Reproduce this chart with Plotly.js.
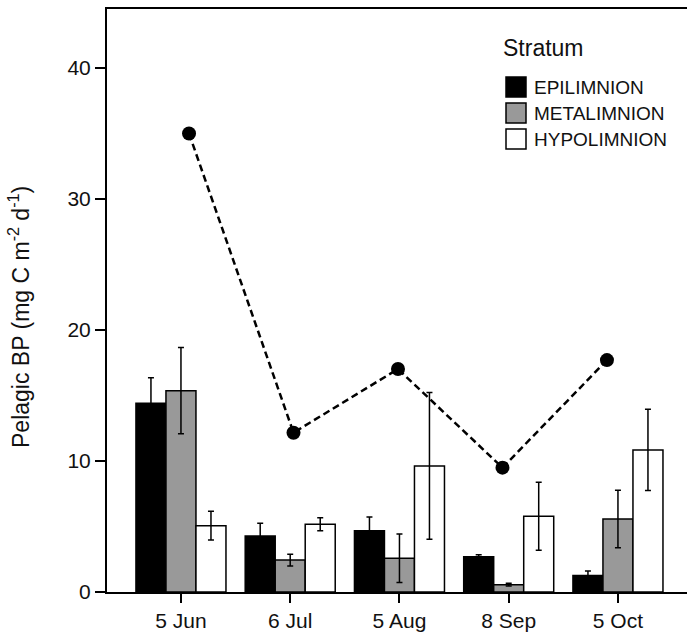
<!DOCTYPE html>
<html>
<head>
<meta charset="utf-8">
<script src="https://cdn.plot.ly/plotly-3.0.1.min.js"></script>
<style>html,body{margin:0;padding:0;background:#fff;}#chart{width:687px;height:638px;}</style>
</head>
<body>
<div id="chart"></div>
<script>
// ---- data ----
const dates = ['5 Jun', '6 Jul', '5 Aug', '8 Sep', '5 Oct'];
const legendTitle = 'Stratum';
const yTitle = 'Pelagic BP (mg C m<sup>-2</sup> d<sup>-1</sup>)';
const seriesNames = ['EPILIMNION', 'METALIMNION', 'HYPOLIMNION'];
const epilimnion = [14.4, 4.27, 4.68, 2.7, 1.25];
const epilimnionErr = [1.96, 0.97, 1.05, 0.15, 0.35];
const metalimnion = [15.37, 2.44, 2.57, 0.56, 5.57];
const metalimnionErr = [3.3, 0.45, 1.85, 0.1, 2.2];
const hypolimnion = [5.06, 5.17, 9.62, 5.78, 10.84];
const hypolimnionErr = [1.1, 0.5, 5.6, 2.6, 3.1];
const totalBP = [35.0, 12.16, 17.02, 9.49, 17.7];
const yTicks = [0, 10, 20, 30, 40];

// ---- styles ----
const FONT = 'Liberation Sans, Arial, Helvetica, sans-serif';
const fills = ['#000000', '#999999', '#ffffff'];
const values = [epilimnion, metalimnion, hypolimnion];
const errs = [epilimnionErr, metalimnionErr, hypolimnionErr];

// plot area geometry (pixels)
const W = 687, H = 638, ML = 107, MR = 0, MT = 9, MB = 46;
const PW = W - ML - MR, PH = H - MT - MB;
const px = x => (x - ML) / PW;
const py = y => (H - MB - y) / PH;

const traces = seriesNames.map((name, i) => ({
  type: 'bar',
  name: name,
  x: dates,
  y: values[i],
  marker: {color: fills[i], line: {color: '#000', width: 1.5}},
  error_y: {type: 'data', array: errs[i], visible: true, color: '#000', thickness: 1.5, width: 3},
  xaxis: 'x', yaxis: 'y',
  showlegend: false
}));

traces.push({
  type: 'scatter',
  mode: 'lines+markers',
  name: 'Total',
  x: dates,
  y: totalBP,
  xaxis: 'x2', yaxis: 'y',
  line: {color: '#000', width: 2.5, dash: '7px,4px'},
  marker: {color: '#000', size: 14, symbol: 'circle'},
  showlegend: false
});

// legend drawn as shapes + annotations
const legendRowY = [87, 113, 139];
const shapes = seriesNames.map((name, i) => ({
  type: 'rect', xref: 'paper', yref: 'paper',
  x0: px(506), x1: px(526), y0: py(legendRowY[i] + 10), y1: py(legendRowY[i] - 10),
  fillcolor: fills[i], line: {color: '#000', width: 1.5}
}));
const annotations = seriesNames.map((name, i) => ({
  xref: 'paper', yref: 'paper', x: px(532), y: py(legendRowY[i]),
  xanchor: 'left', yanchor: 'middle', showarrow: false,
  text: name, font: {family: FONT, size: 19, color: '#111'}
}));
annotations.push({
  xref: 'paper', yref: 'paper', x: px(501), y: py(48),
  xanchor: 'left', yanchor: 'middle', showarrow: false,
  text: legendTitle, font: {family: FONT, size: 23, color: '#111'}
});
// y-axis title
annotations.push({
  xref: 'paper', yref: 'paper', x: px(19), y: py(317),
  xanchor: 'center', yanchor: 'middle', showarrow: false, textangle: -90,
  text: yTitle, font: {family: FONT, size: 23, color: '#111'}
});

const layout = {
  width: W, height: H,
  margin: {l: ML, r: MR, t: MT, b: MB},
  paper_bgcolor: '#fff', plot_bgcolor: '#fff',
  font: {family: FONT, size: 21, color: '#111'},
  barmode: 'group',
  bargap: 0.176,
  bargroupgap: 0,
  showlegend: false,
  shapes: shapes,
  annotations: annotations,
  xaxis: {
    type: 'category',
    range: [-0.677, 4.632],
    showline: true, linecolor: '#000', linewidth: 2,
    ticks: 'outside', ticklen: 9, tickwidth: 2, tickcolor: '#000',
    showgrid: false, zeroline: false,
    tickfont: {family: FONT, size: 21, color: '#111'}
  },
  xaxis2: {
    type: 'category',
    overlaying: 'x', side: 'top',
    range: [-0.785, 4.766],
    showline: true, linecolor: '#000', linewidth: 2,
    ticks: '', showticklabels: false, showgrid: false, zeroline: false
  },
  yaxis: {
    range: [0, 44.5],
    tickvals: yTicks,
    showline: true, linecolor: '#000', linewidth: 2,
    ticks: 'outside', ticklen: 10, tickwidth: 2, tickcolor: '#000',
    showgrid: false, zeroline: false,
    tickfont: {family: FONT, size: 21, color: '#111'}
  }
};

Plotly.newPlot('chart', traces, layout, {displayModeBar: false, staticPlot: true});
</script>
</body>
</html>
